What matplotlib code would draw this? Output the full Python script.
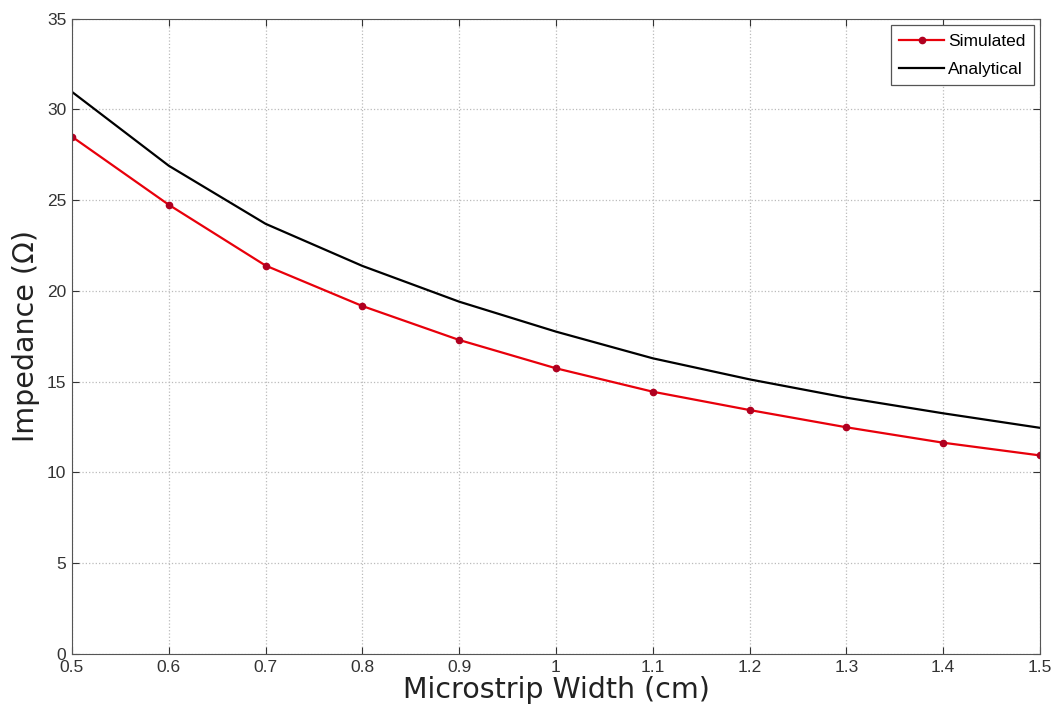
import matplotlib
matplotlib.use("Agg")
import matplotlib.pyplot as plt

width = [0.5, 0.6, 0.7, 0.8, 0.9, 1.0, 1.1, 1.2, 1.3, 1.4, 1.5]
simulated = [28.5, 24.75, 21.4, 19.17, 17.3, 15.74, 14.45, 13.44, 12.49, 11.64, 10.94]
analytical = [30.97, 26.9, 23.7, 21.38, 19.41, 17.76, 16.29, 15.13, 14.12, 13.26, 12.46]
xtick_labels = ["0.5", "0.6", "0.7", "0.8", "0.9", "1", "1.1", "1.2", "1.3", "1.4", "1.5"]

fig = plt.figure(figsize=(10.58, 7.19), dpi=100)
ax = fig.add_axes([0.068, 0.0904, 0.915, 0.8836])

ax.plot(width, simulated, color="#e8000b", marker="o", markersize=4.5,
        markerfacecolor="#b00020", markeredgecolor="#b00020", linewidth=1.6, label="Simulated")
ax.plot(width, analytical, color="black", linewidth=1.6, label="Analytical")

ax.set_xlim(0.5, 1.5)
ax.set_ylim(0, 35)
ax.set_xticks(width)
ax.set_xticklabels(xtick_labels)
ax.set_yticks(range(0, 36, 5))
ax.tick_params(direction="in", labelsize=12.5, colors="#333333", top=True, right=True, length=5, pad=4)
for lbl in ax.get_xticklabels() + ax.get_yticklabels():
    lbl.set_family("Liberation Sans")
for s in ax.spines.values():
    s.set_color("#555555")
ax.grid(True, linestyle=":", color="#bbbbbb", linewidth=0.9)

ax.set_xlabel("Microstrip Width (cm)", fontsize=20.5, family="DejaVu Sans", color="#222222", labelpad=1)
ax.set_ylabel("Impedance (\u03a9)", fontsize=20.5, family="DejaVu Sans", color="#222222", labelpad=5)

leg = ax.legend(loc="upper right", prop={"family": "Liberation Sans", "size": 12.5}, fancybox=False,
                edgecolor="#555555", framealpha=1, handlelength=2.6, handletextpad=0.2,
                borderaxespad=0.35, borderpad=0.5, labelspacing=0.75)
leg.get_frame().set_linewidth(0.9)

fig.savefig("out.png", dpi=100)
